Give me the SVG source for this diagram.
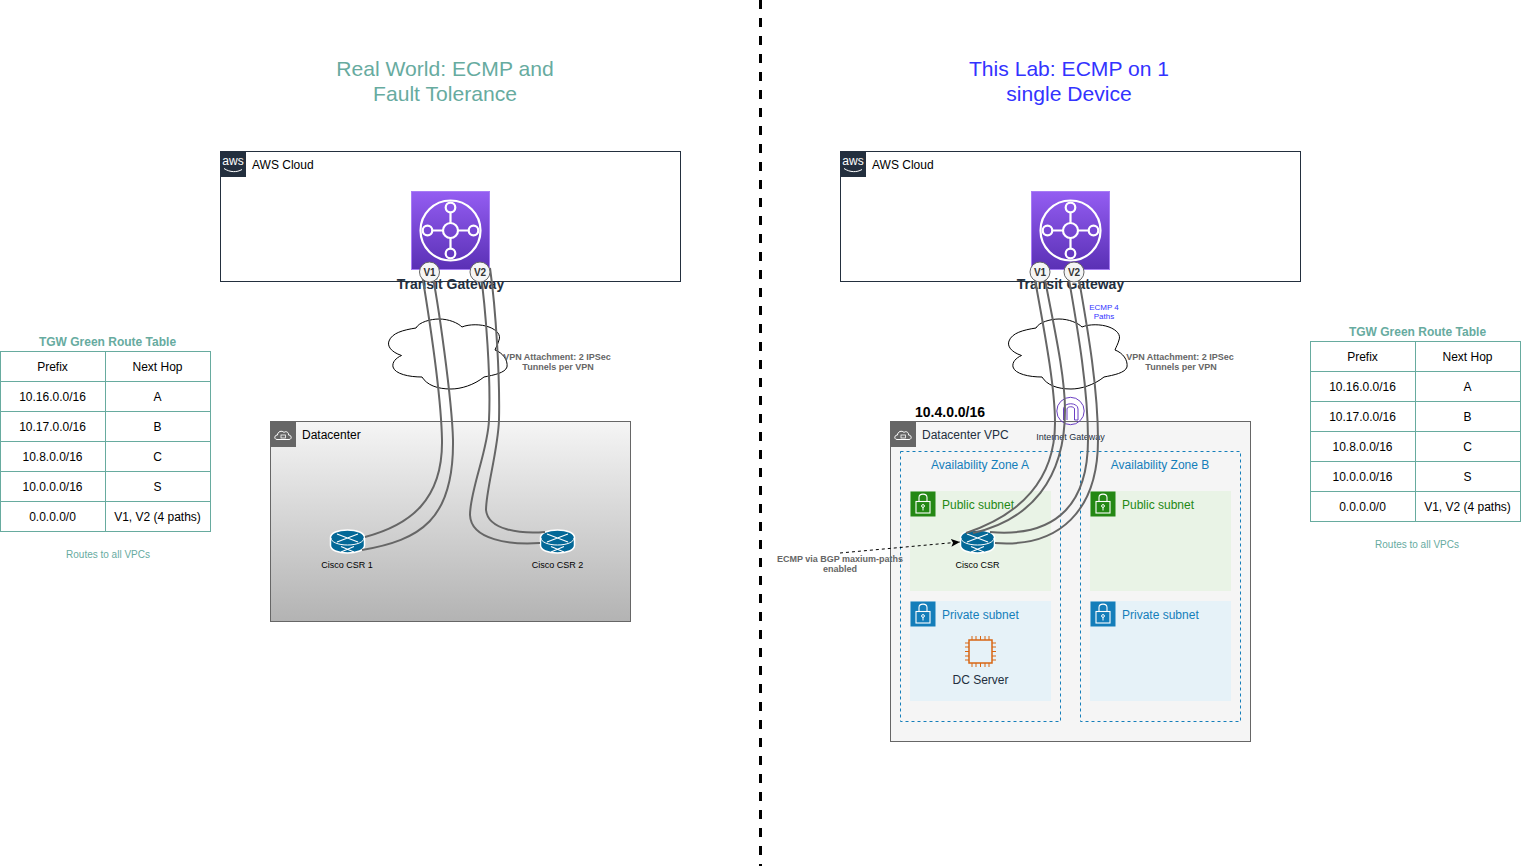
<svg xmlns="http://www.w3.org/2000/svg" xmlns:xlink="http://www.w3.org/1999/xlink" width="1521" height="866" viewBox="0 0 1521 866">
<style>
text{font-family:"Liberation Sans",Arial,sans-serif}
.m{text-anchor:middle}
.t12{font-size:12px;fill:#000}
.title{font-size:21.1px;text-anchor:middle}
.grn{fill:#67AB9F}
.blu{fill:#3333FF}
.rt{font-size:12px;font-weight:bold;fill:#67AB9F;text-anchor:middle}
.small{font-size:10px;fill:#67AB9F;text-anchor:middle}
.cell{fill:#fff;stroke:#67AB9F;stroke-width:1}
.lbl{font-size:9px;font-weight:bold;fill:#666;text-anchor:middle}
.rtr{font-size:9px;fill:#000;text-anchor:middle}
.tgwl{font-size:14px;font-weight:bold;fill:#232F3E;text-anchor:middle}
.awsbox{fill:none;stroke:#232F3E;stroke-width:1}
.link{fill:none;stroke:#666;stroke-width:2}
.vc{fill:#f5f5f5;stroke:#666;stroke-width:1}
.vt{font-size:10px;font-weight:bold;fill:#333;text-anchor:middle}
.az{fill:none;stroke:#147EBA;stroke-dasharray:3 3}
.azt{font-size:12px;fill:#147EBA;text-anchor:middle}
.pub{fill:#E9F3E6}.pubh{fill:#248814}.pubt{font-size:12px;fill:#248814}
.pri{fill:#E6F2F8}.prih{fill:#147EBA}.prit{font-size:12px;fill:#147EBA}
.wl{fill:none;stroke:#fff}
.cloud{fill:#fff;stroke:#000;stroke-width:1}
</style>
<defs>
<linearGradient id="tg" x1="0" y1="0" x2="0" y2="1"><stop offset="0" stop-color="#945DF2"/><stop offset="1" stop-color="#5A30B5"/></linearGradient>
<linearGradient id="dc" x1="0" y1="0" x2="0" y2="1"><stop offset="0" stop-color="#f5f5f5"/><stop offset="1" stop-color="#b3b3b3"/></linearGradient>
<marker id="arr" markerWidth="10" markerHeight="8" refX="9" refY="4" orient="auto" markerUnits="userSpaceOnUse"><path d="M0,0L9,4L0,8L2,4Z" fill="#000"/></marker>
<g id="tgwIcon">
<rect x="0.5" y="0.5" width="78" height="78" fill="url(#tg)" stroke="#A77CF5"/>
<g class="wl" stroke-width="2.2"><circle cx="39.500" cy="39.500" r="30"/><circle cx="39.500" cy="39.500" r="7.500"/><circle cx="39.500" cy="16.500" r="4.800"/><circle cx="39.500" cy="62.500" r="4.800"/><circle cx="16.500" cy="39.500" r="4.800"/><circle cx="62.500" cy="39.500" r="4.800"/><path d="M39.500,21.500V32M39.500,47V57.500M21.500,39.500H32M47,39.500H57.500"/></g>
</g>
<path id="cloudShape" d="M12.5,36.5C2,33 -2,27 0,22C3,14 14,11 27,9C30,3 42,0 50,0C60,0 69,4 73,8C80,5 92,5 100,8C108,11 112,16 110,21C109,25 107,28 106,31C114,34 119,41 118,48C116,54 105,56 95,58C85,66 72,70 62,70C48,70 38,66 33,58C20,58 6,55 4,48C3,43 7,39 12.5,36.5Z"/>
<g id="router">
<path d="M0.5,7.5C0.5,3 8,0 17.5,0S34.5,3 34.5,7.500V15.500C34.500,20 27,23 17.500,23S0.500,20 0.500,15.500Z" fill="#036897" stroke="#fff" stroke-width="1.500"/>
<path d="M1,8C1,12 8,15 17.500,15S34,12 34,8" fill="none" stroke="#fff" stroke-width="1"/>
<path d="M7,4L28,12M28,4L7,12M11,22L24,16.500M11,16.500L24,22" fill="none" stroke="#fff" stroke-width="1.100"/>
</g>
<g id="awsLogo">
<rect width="26" height="26" fill="#232F3E"/>
<text x="13" y="14" font-size="12" fill="#fff" text-anchor="middle">aws</text>
<path d="M4,17.500C10,21.500 17,21.500 22,18.500" fill="none" stroke="#fff" stroke-width="1"/>
</g>
<g id="lock">
<path d="M9,10.500V6.500C9,2 17,2 17,6.500V10.500" fill="none" stroke="#fff" stroke-width="1.100"/>
<rect x="6" y="10.500" width="14" height="11.500" fill="none" stroke="#fff" stroke-width="1.100"/>
<circle cx="13" cy="15" r="1.400" fill="none" stroke="#fff"/><path d="M13,16.400V19.500" stroke="#fff"/>
</g>
<g id="cloudIcon">
<rect width="26" height="26" fill="#666"/>
<path d="M7,18.500C4,18.500 4,14 7.500,14C7.500,10.500 12,9 14,11.500C16,9.500 19,11.500 18.500,14C22,14 22,18.500 19,18.500Z" fill="none" stroke="#fff"/>
<rect x="11" y="14" width="4.500" height="3" fill="none" stroke="#fff" stroke-width="0.800"/>
</g>
<g id="table">
<rect class="cell" x="0.5" y="0.5" width="105" height="30"/><rect class="cell" x="105.5" y="0.5" width="105" height="30"/>
<rect class="cell" x="0.5" y="30.5" width="105" height="30"/><rect class="cell" x="105.5" y="30.5" width="105" height="30"/>
<rect class="cell" x="0.5" y="60.5" width="105" height="30"/><rect class="cell" x="105.5" y="60.5" width="105" height="30"/>
<rect class="cell" x="0.5" y="90.5" width="105" height="30"/><rect class="cell" x="105.5" y="90.5" width="105" height="30"/>
<rect class="cell" x="0.5" y="120.5" width="105" height="30"/><rect class="cell" x="105.5" y="120.5" width="105" height="30"/>
<rect class="cell" x="0.5" y="150.5" width="105" height="30"/><rect class="cell" x="105.5" y="150.5" width="105" height="30"/>
</g>
</defs>

<rect width="1521" height="866" fill="#fff"/>
<path d="M760.5,0V866" stroke="#000" stroke-width="3" stroke-dasharray="9 9" fill="none"/>

<g id="title-left"><text class="title grn" x="445" y="76">Real World: ECMP and</text><text class="title grn" x="445" y="101">Fault Tolerance</text></g>
<g id="title-right"><text class="title blu" x="1069" y="76">This Lab: ECMP on 1</text><text class="title blu" x="1069" y="101">single Device</text></g>

<g id="aws-cloud-left"><rect class="awsbox" x="220.5" y="151.5" width="460" height="130"/><use xlink:href="#awsLogo" x="220" y="151"/><text class="t12" x="252" y="169">AWS Cloud</text></g>
<g id="aws-cloud-right"><rect class="awsbox" x="840.5" y="151.5" width="460" height="130"/><use xlink:href="#awsLogo" x="840" y="151"/><text class="t12" x="872" y="169">AWS Cloud</text></g>

<g id="tgw-left"><use xlink:href="#tgwIcon" x="411" y="191"/><text class="tgwl" x="450.5" y="289">Transit Gateway</text></g>
<g id="tgw-right"><use xlink:href="#tgwIcon" x="1031" y="191"/><text class="tgwl" x="1070.5" y="289">Transit Gateway</text></g>

<g id="internet-left"><use xlink:href="#cloudShape" x="389" y="319" class="cloud"/></g>
<g id="internet-right"><use xlink:href="#cloudShape" x="1009" y="319" class="cloud"/></g>

<g id="datacenter"><rect x="270.5" y="421.5" width="360" height="200" fill="url(#dc)" stroke="#666"/><use xlink:href="#cloudIcon" x="270" y="421"/><text class="t12" x="302" y="439">Datacenter</text></g>

<g id="vpc"><rect x="890.5" y="421.5" width="360" height="320" fill="#f5f5f5" stroke="#666"/><use xlink:href="#cloudIcon" x="890" y="421"/><text class="t12" x="922" y="439" style="fill:#232F3E">Datacenter VPC</text><text x="915" y="417" font-size="14" font-weight="bold" fill="#000">10.4.0.0/16</text></g>

<g id="az-a"><rect class="az" x="900.5" y="451.5" width="160" height="270"/><text class="azt" x="980" y="469">Availability Zone A</text></g>
<g id="az-b"><rect class="az" x="1080.5" y="451.5" width="160" height="270"/><text class="azt" x="1160" y="469">Availability Zone B</text></g>

<g id="public-a"><rect class="pub" x="910" y="491" width="141" height="100"/><rect class="pubh" x="910.5" y="491.5" width="25" height="25"/><use xlink:href="#lock" x="910" y="491"/><text class="pubt" x="942" y="509">Public subnet</text></g>
<g id="public-b"><rect class="pub" x="1090" y="491" width="141" height="100"/><rect class="pubh" x="1090.5" y="491.5" width="25" height="25"/><use xlink:href="#lock" x="1090" y="491"/><text class="pubt" x="1122" y="509">Public subnet</text></g>
<g id="private-a"><rect class="pri" x="910" y="601" width="141" height="100"/><rect class="prih" x="910.5" y="601.5" width="25" height="25"/><use xlink:href="#lock" x="910" y="601"/><text class="prit" x="942" y="619">Private subnet</text></g>
<g id="private-b"><rect class="pri" x="1090" y="601" width="141" height="100"/><rect class="prih" x="1090.5" y="601.5" width="25" height="25"/><use xlink:href="#lock" x="1090" y="601"/><text class="prit" x="1122" y="619">Private subnet</text></g>

<g id="dc-server">
<rect x="969" y="640" width="23" height="23" fill="none" stroke="#D86613" stroke-width="1.500"/>
<path d="M972,640V636M976,640V636M980.500,640V636M985,640V636M989,640V636M972,663V667M976,663V667M980.500,663V667M985,663V667M989,663V667M969,643H965M969,647H965M969,651.500H965M969,656H965M969,660H965M992,643H996M992,647H996M992,651.500H996M992,656H996M992,660H996" stroke="#D86613" fill="none"/>
<text class="m t12" x="980.5" y="684" style="fill:#232F3E">DC Server</text>
</g>

<g id="igw">
<circle cx="1070.5" cy="411" r="13.7" fill="none" stroke="#6B3FC4" stroke-width="1"/>
<path d="M1063.500,420V409C1063.500,402 1078,402 1078,409V420H1074.500V409C1074.500,406 1067,406 1067,409V420" fill="none" stroke="#6B3FC4" stroke-width="1"/>
<text class="m" x="1070.5" y="440" font-size="9" fill="#232F3E">Internet Gateway</text>
</g>

<g id="csr1"><use xlink:href="#router" x="330" y="530"/><text class="rtr" x="347" y="568">Cisco CSR 1</text></g>
<g id="csr2"><use xlink:href="#router" x="540" y="530"/><text class="rtr" x="557.5" y="568">Cisco CSR 2</text></g>
<g id="csr"><use xlink:href="#router" x="960" y="530"/><text class="rtr" x="977.5" y="568">Cisco CSR</text></g>

<g id="connectors">
<path class="link" d="M421,268C428,310 441,390 442,440C443,500 410,525 365,537"/>
<path class="link" d="M431,268C438,300 452,400 453,440C454,520 420,540 362,550"/>
<path class="link" d="M480,268C486,310 491,380 489,420C488,450 470,490 470,515C471,540 510,545 540,543"/>
<path class="link" d="M490,268C496,310 500,380 499,420C498,450 486,490 486,510C488,530 520,534 545,532"/>
<path class="link" d="M1033,268C1040,310 1055,380 1055,423C1055,480 1020,515 966,533"/>
<path class="link" d="M1043,268C1050,310 1065,370 1065,410C1065,480 1030,520 973,533"/>
<path class="link" d="M1067,268C1074,310 1088,380 1088,440C1088,500 1060,538 990,532"/>
<path class="link" d="M1077,268C1084,310 1098,380 1098,440C1098,510 1060,548 995,543"/>
<path d="M840,553L960,542" fill="none" stroke="#000" stroke-dasharray="3 3" marker-end="url(#arr)"/>
</g>

<g id="v1-left"><circle class="vc" cx="429.5" cy="272" r="10"/><text class="vt" x="429.5" y="276">V1</text></g>
<g id="v2-left"><circle class="vc" cx="480" cy="272" r="10"/><text class="vt" x="480" y="276">V2</text></g>
<g id="v1-right"><circle class="vc" cx="1040" cy="272" r="10"/><text class="vt" x="1040" y="276">V1</text></g>
<g id="v2-right"><circle class="vc" cx="1074" cy="272" r="10"/><text class="vt" x="1074" y="276">V2</text></g>

<g id="label-vpn-left"><text class="lbl" x="557" y="360">VPN Attachment: 2 IPSec</text><text class="lbl" x="558" y="370">Tunnels per VPN</text></g>
<g id="label-vpn-right"><text class="lbl" x="1180" y="360">VPN Attachment: 2 IPSec</text><text class="lbl" x="1181" y="370">Tunnels per VPN</text></g>
<g id="label-ecmp4"><text class="m blu" x="1104" y="310" font-size="8">ECMP 4</text><text class="m blu" x="1104" y="319" font-size="8">Paths</text></g>
<g id="label-bgp"><text class="lbl" x="840" y="562">ECMP via BGP maxium-paths</text><text class="lbl" x="840" y="572">enabled</text></g>

<g id="route-table-left">
<text class="rt" x="107.5" y="346">TGW Green Route Table</text>
<use xlink:href="#table" x="0" y="351"/>
<g class="t12 m">
<text x="52.5" y="371">Prefix</text><text x="157.5" y="371">Next Hop</text>
<text x="52.5" y="401">10.16.0.0/16</text><text x="157.5" y="401">A</text>
<text x="52.5" y="431">10.17.0.0/16</text><text x="157.5" y="431">B</text>
<text x="52.5" y="461">10.8.0.0/16</text><text x="157.5" y="461">C</text>
<text x="52.5" y="491">10.0.0.0/16</text><text x="157.5" y="491">S</text>
<text x="52.5" y="521">0.0.0.0/0</text><text x="157.5" y="521">V1, V2 (4 paths)</text>
</g>
<text class="small" x="108" y="558">Routes to all VPCs</text>
</g>
<g id="route-table-right">
<text class="rt" x="1417.5" y="336">TGW Green Route Table</text>
<use xlink:href="#table" x="1310" y="341"/>
<g class="t12 m">
<text x="1362.5" y="361">Prefix</text><text x="1467.5" y="361">Next Hop</text>
<text x="1362.5" y="391">10.16.0.0/16</text><text x="1467.5" y="391">A</text>
<text x="1362.5" y="421">10.17.0.0/16</text><text x="1467.5" y="421">B</text>
<text x="1362.5" y="451">10.8.0.0/16</text><text x="1467.5" y="451">C</text>
<text x="1362.5" y="481">10.0.0.0/16</text><text x="1467.5" y="481">S</text>
<text x="1362.5" y="511">0.0.0.0/0</text><text x="1467.5" y="511">V1, V2 (4 paths)</text>
</g>
<text class="small" x="1417" y="548">Routes to all VPCs</text>
</g>
</svg>
